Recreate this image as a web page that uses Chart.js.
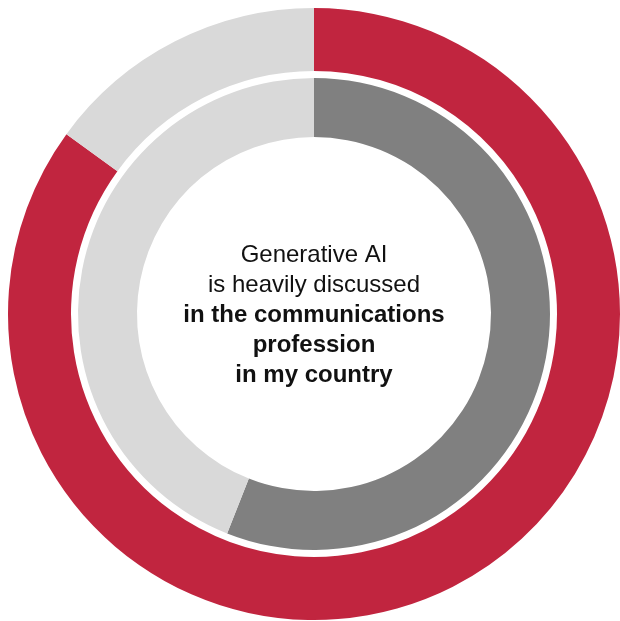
<!DOCTYPE html>
<html>
<head>
<meta charset="utf-8">
<script src="https://cdn.jsdelivr.net/npm/chart.js@4"></script>
<style>
  html, body { margin: 0; padding: 0; background: #fff; }
  #wrap { width: 620px; height: 621px; }
</style>
</head>
<body>
<div id="wrap"><canvas id="chart"></canvas></div>
<script>
// values (share of respondents, %)
const segmentLabels = ['Share', 'Rest'];
const outerValues = [85, 15];
const innerValues = [56, 44];
const centerLines = [
  { text: 'Generative AI', bold: false },
  { text: 'is heavily discussed', bold: false },
  { text: 'in the communications', bold: true },
  { text: 'profession', bold: true },
  { text: 'in my country', bold: true }
];

// draw the text in the hole of the doughnut
const centerText = {
  id: 'centerText',
  afterDraw(chart) {
    const ctx = chart.ctx;
    const meta = chart.getDatasetMeta(0).data[0];
    const cx = meta.x, cy = meta.y;
    const lineH = 30;
    const startY = cy - 52; // baseline of first line
    ctx.save();
    ctx.textAlign = 'center';
    ctx.textBaseline = 'alphabetic';
    ctx.fillStyle = '#111';
    centerLines.forEach((l, i) => {
      ctx.font = (l.bold ? 'bold ' : '') + '24px "Liberation Sans", Arial, sans-serif';
      ctx.fillText(l.text, cx, startY + i * lineH);
    });
    ctx.restore();
  }
};

new Chart(document.getElementById('chart'), {
  type: 'doughnut',
  data: {
    labels: segmentLabels,
    datasets: [
      { data: outerValues, backgroundColor: ['#c1253f', '#d9d9d9'], weight: 63, borderWidth: 0 },
      // empty ring used as the white gap between the two rings
      { data: [1], backgroundColor: ['rgba(0,0,0,0)'], weight: 7, borderWidth: 0 },
      { data: innerValues, backgroundColor: ['#808080', '#d9d9d9'], weight: 59, borderWidth: 0 }
    ]
  },
  options: {
    responsive: true,
    maintainAspectRatio: false,
    animation: false,
    events: [],
    cutout: 177,
    layout: { padding: { left: 8, top: 7, right: 0, bottom: 0 } },
    plugins: {
      legend: { display: false },
      tooltip: { enabled: false }
    }
  },
  plugins: [centerText]
});
</script>
</body>
</html>
